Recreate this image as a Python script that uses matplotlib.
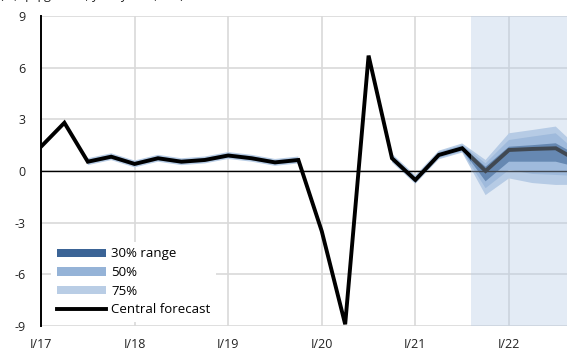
import numpy as np
import matplotlib
matplotlib.use("Agg")
import matplotlib.pyplot as plt
from matplotlib.patches import Patch
from matplotlib.lines import Line2D

plt.rcParams['font.family'] = ['Open Sans', 'DejaVu Sans']

nan = np.nan
quarters = ["I/17", "II/17", "III/17", "IV/17", "I/18", "II/18", "III/18", "IV/18",
            "I/19", "II/19", "III/19", "IV/19", "I/20", "II/20", "III/20", "IV/20",
            "I/21", "II/21", "III/21", "IV/21", "I/22", "II/22", "III/22", "IV/22"]
central = [1.41, 2.8, 0.54, 0.83, 0.41, 0.74, 0.54, 0.64, 0.9, 0.74, 0.5, 0.64,
           -3.5, -8.9, 6.7, 0.74, -0.52, 0.93, 1.32, 0.0, 1.22, 1.28, 1.32, 0.55]

lo75 = [nan, nan, 0.34, 0.63, 0.21, 0.54, 0.34, 0.44, 0.70, 0.54, 0.30, 0.44,
        nan, nan, nan, 0.50, -0.75, 0.68, 1.07, -1.40, -0.43, -0.70, -0.81, -0.80]
hi75 = [nan, nan, 0.74, 1.03, 0.61, 0.94, 0.74, 0.84, 1.10, 0.94, 0.70, 0.84,
        nan, nan, nan, 1.00, -0.25, 1.18, 1.60, 0.64, 2.19, 2.38, 2.58, 1.30]
lo50 = [nan, nan, 0.42, 0.71, 0.29, 0.62, 0.42, 0.52, 0.78, 0.62, 0.38, 0.52,
        nan, nan, nan, 0.58, -0.67, 0.76, 1.15, -1.00, 0.06, -0.17, -0.23, -0.30]
hi50 = [nan, nan, 0.66, 0.95, 0.53, 0.86, 0.66, 0.76, 1.02, 0.86, 0.62, 0.76,
        nan, nan, nan, 0.90, -0.35, 1.10, 1.50, 0.45, 1.80, 2.00, 2.19, 1.00]
lo30 = [nan, nan, 0.48, 0.77, 0.35, 0.68, 0.48, 0.58, 0.84, 0.68, 0.44, 0.58,
        nan, nan, nan, 0.66, -0.60, 0.85, 1.25, -0.60, 0.54, 0.54, 0.54, 0.20]
hi30 = [nan, nan, 0.60, 0.89, 0.47, 0.80, 0.60, 0.70, 0.96, 0.80, 0.56, 0.70,
        nan, nan, nan, 0.82, -0.44, 1.00, 1.40, 0.25, 1.41, 1.50, 1.61, 0.85]

forecast_start = 18.37
year_ticks = [0, 4, 8, 12, 16, 20]
yticks = [-9, -6, -3, 0, 3, 6, 9]

c30 = '#3b6496'
c50 = '#95b3d7'
c75 = '#b9cde5'

fig = plt.figure(figsize=(5.67, 3.58), dpi=100)
ax = fig.add_axes([41/567, 1-326/358, 1-41/567, 310/358])

x = np.arange(len(central))
ax.fill_between(x, lo75, hi75, color=c75, lw=0, zorder=2)
ax.fill_between(x, lo50, hi50, color=c50, lw=0, zorder=3)
ax.fill_between(x, lo30, hi30, color=c30, lw=0, zorder=4)
ax.plot(x, central, color='black', lw=2.8, zorder=5, solid_joinstyle='miter')
ax.axhline(0, color='black', lw=1.0, zorder=4.5)

ax.axvspan(forecast_start, 23.5, color=(179/255, 201/255, 229/255), alpha=0.36,
           lw=0, zorder=6)

ax.set_xlim(0, 22.48)
ax.set_ylim(-9, 9)
ax.set_yticks(yticks)
ax.set_yticklabels([str(v) for v in yticks], fontsize=9, color='#222222')
ax.set_xticks(year_ticks)
ax.set_xticklabels([quarters[i] for i in year_ticks], fontsize=9, color='#222222')
ax.tick_params(length=0, pad=9)
ax.tick_params(axis='y', pad=11)
ax.grid(True, color='#d9d9d9', lw=1.2, zorder=0)
ax.set_axisbelow(True)
for s in ['top', 'right', 'bottom']:
    ax.spines[s].set_visible(False)
ax.spines['left'].set_color('black')
ax.spines['left'].set_linewidth(1.4)
ax.spines['left'].set_zorder(7)

handles = [Patch(facecolor=c30, edgecolor='none', label='30% range'),
           Patch(facecolor=c50, edgecolor='none', label='50%'),
           Patch(facecolor=c75, edgecolor='none', label='75%'),
           Line2D([0], [0], color='black', lw=2.8, label='Central forecast')]
leg = ax.legend(handles=handles, loc='lower left', bbox_to_anchor=(0.012, 0.0),
                frameon=True, fontsize=9.5, handlelength=3.7, handleheight=0.6,
                labelspacing=0.42, handletextpad=0.4, borderpad=0.45,
                borderaxespad=0.3)
leg.get_frame().set_facecolor('white')
leg.get_frame().set_edgecolor('none')
leg.get_frame().set_alpha(1.0)
leg.set_zorder(8)

fig.text(0.0, 1.0 + 1.0/358, "(%, q/q growth, yearly rate, s.a.)", fontsize=9,
         color='#222222', va='baseline', ha='left')

fig.savefig("out.png", dpi=100)
